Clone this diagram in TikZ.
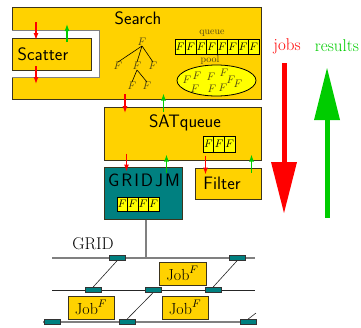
\documentclass[tikz,border=0pt]{standalone}
\usetikzlibrary{arrows.meta,calc,shapes.geometric}
\definecolor{gold}{RGB}{255,210,0}
\definecolor{tealbox}{RGB}{0,128,128}
\definecolor{cellyellow}{RGB}{255,255,0}
\definecolor{edge}{RGB}{60,52,28}
\definecolor{jobred}{RGB}{255,0,0}
\definecolor{resgreen}{RGB}{0,204,0}
\definecolor{gridgray}{RGB}{128,128,128}
\definecolor{olive}{RGB}{80,70,20}
\tikzset{
  box/.style={draw=edge, line width=1pt, fill=gold, inner sep=0pt},
  cell/.style={draw=black, line width=0.6pt, fill=cellyellow, minimum width=10.5pt,
    minimum height=15pt, inner sep=0pt, font=\fontsize{11}{11}\selectfont},
  lbl/.style={font=\fontsize{18}{20}\selectfont\sffamily, inner sep=0pt},
  tree/.style={font=\fontsize{11}{11}\selectfont, inner sep=0pt, text=olive},
  small/.style={font=\fontsize{10}{10}\selectfont, inner sep=0pt, text=olive},
  jobarr/.style={draw=jobred, line width=1.2pt, -{Latex[length=7pt,width=5pt]}},
  resarr/.style={draw=resgreen, line width=1.2pt, -{Latex[length=7pt,width=5pt]}},
  router/.style={draw=black!80, line width=0.6pt, fill=tealbox, minimum width=16pt,
    minimum height=5pt, inner sep=0pt},
  jobbox/.style={draw=edge, line width=0.8pt, fill=gold, minimum width=46pt,
    minimum height=23pt, inner sep=0pt, font=\fontsize{16}{16}\selectfont},
  gridline/.style={draw=gridgray, line width=1.4pt},
  netline/.style={draw=black!85, line width=0.8pt},
  legend/.style={font=\fontsize{17}{17}\selectfont, inner sep=0pt},
}
\begin{document}
\begin{tikzpicture}[x=1pt,y=-1pt]
\useasboundingbox (0,0) rectangle (361,327);

% Search block with the notch that holds Scatter
\node[box, minimum width=249pt, minimum height=92pt, anchor=north west] (search) at (12,7) {};
\fill[white] (11,30) rectangle (99,77);
\draw[gridgray, line width=0.8pt] (12,30) -- (99,30) -- (99,77) -- (12,77);
\node[lbl] (searchlbl) at (138,18) {Search};

\node[box, minimum width=79pt, minimum height=32pt, anchor=north west] (scatter) at (12,38) {};
\node[lbl] (scatterlbl) at (43,54) {Scatter};

% search tree
\node[tree] (t0) at (142,42) {$F$};
\node[tree] (t1) at (118,66) {$F$};
\node[tree] (t2) at (137,66) {$F$};
\node[tree] (t3) at (153,66) {$F$};
\node[tree] (t4) at (132,86) {$F$};
\node[tree] (t5) at (147,86) {$F$};
\draw[black, line width=0.6pt] (t0.south) -- (t1.north) (t0.south) -- (t2.north) (t0.south) -- (t3.north)
  (t2.south) -- (t4.north) (t2.south) -- (t5.north);

% queue
\node[small] (queuelbl) at (212,33) {queue};
\foreach \i in {0,...,7}
  \node[cell] (q\i) at (180.25+\i*10.5,46.5) {$F$};

% pool
\node[small] (poollbl) at (210,60) {pool};
\node[draw=black, line width=0.8pt, fill=cellyellow, ellipse, minimum width=79pt,
  minimum height=31pt, inner sep=0pt] (pool) at (216.5,80.5) {};
\foreach \px/\py [count=\k] in {187/80,197/76,195/89,211/77,212/89,224/73,223/88,231/80,238/84}
  \node[tree] (p\k) at (\px,\py) {$F$};

% SATqueue
\node[box, minimum width=157pt, minimum height=53pt] (sat) at (182.5,133.5) {};
\node[lbl] (satlbl) at (185,123) {SATqueue};
\foreach \i in {0,1,2}
  \node[cell, minimum width=10.7pt, minimum height=16pt] (s\i) at (208.35+\i*10.7,144) {$F$};

% GRIDJM
\node[draw=edge, line width=1pt, fill=tealbox, minimum width=78pt, minimum height=52pt,
  inner sep=0pt] (gridjm) at (143,193) {};
\node[lbl] (gridjmlbl) at (144,180)
  {G\hspace{2pt}R\hspace{2pt}I\hspace{2pt}D\hspace{2pt}J\hspace{2pt}M};
\foreach \i in {0,...,3}
  \node[cell, minimum height=14pt] (g\i) at (122.25+\i*10.5,204) {$F$};

% Filter
\node[box, minimum width=66pt, minimum height=31pt] (filter) at (228,183.5) {};
\node[lbl] (filterlbl) at (222,183) {Filter};

% job / result markers between the blocks
\draw[jobarr] ($(scatter.north west)+(24,-16)$) -- ++(0,18);
\draw[resarr] ($(scatter.north west)+(55,4)$) -- ++(0,-18);
\draw[jobarr] ($(scatter.south west)+(24,-5)$) -- ++(0,18);
\draw[jobarr] ($(search.south west)+(113,-6)$) -- ++(0,19);
\draw[resarr] ($(sat.north west)+(60,5)$) -- ++(0,-18);
\draw[jobarr] ($(sat.south west)+(23,-7)$) -- ++(0,18);
\draw[resarr] ($(gridjm.north west)+(63,6)$) -- ++(0,-18);
\draw[jobarr] ($(filter.north west)+(11,-12)$) -- ++(0,19);
\draw[resarr] ($(filter.north east)+(-10,5)$) -- ++(0,-18);

% legend arrows
\node[legend, text=jobred] (jobs) at (287,46) {jobs};
\node[legend, text=resgreen] (results) at (337,46) {results};
\fill[jobred] (281.5,63) rectangle (286.5,162);
\fill[jobred] (271,162) -- (297,162) -- (284,213) -- cycle;
\fill[resgreen] (324.5,218) rectangle (329.5,120);
\fill[resgreen] (314,120) -- (340,120) -- (327,68) -- cycle;

% GRID network
\coordinate (gtop) at (146,258);
\draw[gridline] (gtop |- gridjm.south) -- (gtop);
\draw[gridline] (52,258) -- (255,258);
\draw[netline] (52,290) -- (255,290);
\draw[gridline] (43,322) -- (255,322);
\node[legend] (gridlbl) at (93,244) {GRID};

\node[router] (r1) at (117,258) {};
\node[router] (r2) at (237,258) {};
\node[router] (r3) at (93,290) {};
\node[router] (r4) at (153,290) {};
\node[router] (r5) at (213,290) {};
\node[router] (r6) at (52,322) {};
\node[router] (r7) at (127,322) {};
\node[router] (r8) at (248,322) {};
\coordinate (rout) at (256,313);
\draw[netline, line width=0.6pt] (r1.south) -- (r3.north) (r2.south) -- (r5.north)
  (r4.south) -- (r7.north) (r8.north) -- (rout);

\node[jobbox, minimum width=47pt] (job1) at (182.5,273.5) {Job$^F$};
\node[jobbox] (job2) at (91,307.5) {Job$^F$};
\node[jobbox] (job3) at (185,307.5) {Job$^F$};
\end{tikzpicture}
\end{document}
